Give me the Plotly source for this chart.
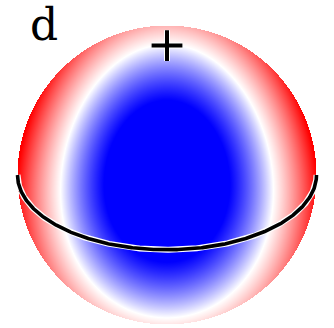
import numpy as np
import plotly.graph_objects as go

# Viewing geometry (degrees) and the scalar field on the unit sphere, written in
# screen-aligned coordinates (u right, v up, w toward the viewer):
#   f = cu*u^2 + cv*v^2 + cw*w^2 + bv*v + cuv*u^2*v
view_elevation_deg = 30.0
quad_coeffs = [1.0, 0.2, -1.0]    # cu, cv, cw
odd_coeffs = [0.1, 0.3]           # bv, cuv
color_limits = [-0.65, 1.0]
panel_label = "d"

W, H = 334, 328
cx_px, cy_px, r_px = 167.0, 175.0, 149.5

# Axis ranges in sphere units so that one unit = r_px pixels
x_range = [-cx_px / r_px, (W - cx_px) / r_px]
y_range = [-(H - cy_px) / r_px, cy_px / r_px]

# Sample the field on a pixel grid inside the projected disk
xs = x_range[0] + (np.arange(W) + 0.5) / r_px
ys = y_range[0] + (np.arange(H) + 0.5) / r_px
U, V = np.meshgrid(xs, ys)
rho2 = U**2 + V**2
inside = rho2 <= 1.0
Wd = np.sqrt(np.clip(1.0 - rho2, 0, None))
cu, cv, cw = quad_coeffs
bv, cuv = odd_coeffs
F = cu * U**2 + cv * V**2 + cw * Wd**2 + bv * V + cuv * U**2 * V
F = np.where(inside, F, np.nan)

elev = np.radians(view_elevation_deg)

# Front half of the equator (body-frame circle z = 0)
t = np.linspace(-np.pi / 2, np.pi / 2, 400)
eq_u = np.sin(t)
eq_v = -np.cos(t) * np.sin(elev)

# North pole projected position
pole_u, pole_v = 0.0, np.cos(elev)

# Diverging blue-white-red scale with white pinned at f = 0
zmin, zmax = color_limits
w0 = -zmin / (zmax - zmin)
bwr = [[0.0, "rgb(0,0,255)"], [w0, "rgb(255,255,255)"], [1.0, "rgb(255,0,0)"]]

fig = go.Figure()
fig.add_trace(go.Heatmap(
    x=xs, y=ys, z=F, colorscale=bwr, zmin=zmin, zmax=zmax,
    showscale=False, hoverinfo="skip", zsmooth=False,
))
fig.add_trace(go.Scatter(x=eq_u, y=eq_v, mode="lines",
                         line=dict(color="white", width=6), hoverinfo="skip"))
fig.add_trace(go.Scatter(x=eq_u, y=eq_v, mode="lines",
                         line=dict(color="black", width=3.6), hoverinfo="skip"))
fig.add_trace(go.Scatter(x=[pole_u], y=[pole_v], mode="markers",
                         marker=dict(symbol="cross-thin", size=22,
                                     line=dict(color="white", width=6)),
                         hoverinfo="skip"))
fig.add_trace(go.Scatter(x=[pole_u], y=[pole_v], mode="markers",
                         marker=dict(symbol="cross-thin", size=22,
                                     line=dict(color="black", width=4)),
                         hoverinfo="skip"))

fig.add_annotation(text=panel_label, x=44 / W, y=1.0 + 3 / H, xref="paper", yref="paper",
                   showarrow=False, xanchor="center", yanchor="top",
                   font=dict(family="DejaVu Serif", size=44, color="black"))

fig.update_xaxes(range=x_range, visible=False, showgrid=False, zeroline=False)
fig.update_yaxes(range=y_range, visible=False, showgrid=False, zeroline=False)
fig.update_layout(width=W, height=H, margin=dict(l=0, r=0, t=0, b=0),
                  paper_bgcolor="white", plot_bgcolor="white", showlegend=False)

fig.write_html("out.html")
